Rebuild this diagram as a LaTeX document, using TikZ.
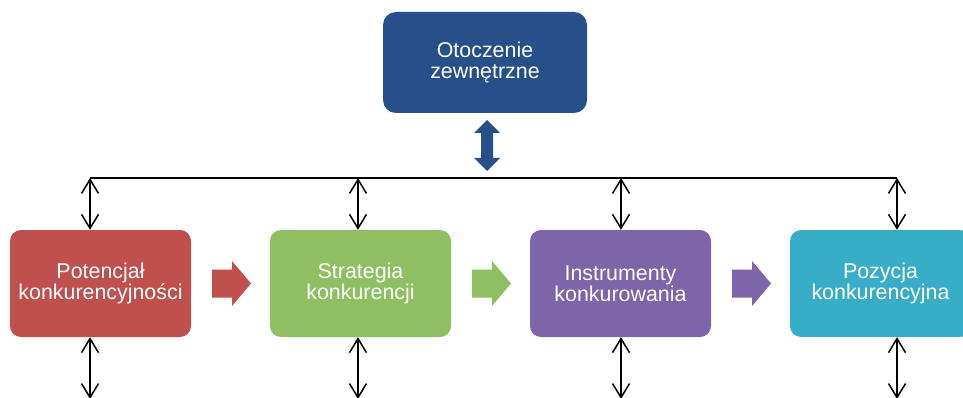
\documentclass[tikz,border=0pt]{standalone}
\usepackage{fontspec}
\setmainfont{Liberation Sans}
\usetikzlibrary{arrows.meta,calc}
\definecolor{cblue}{HTML}{27508A}
\definecolor{cred}{HTML}{C0504D}
\definecolor{cgreen}{HTML}{8FBE63}
\definecolor{cpurple}{HTML}{7E64A8}
\definecolor{ccyan}{HTML}{38ADC8}
\tikzset{
  box/.style={rounded corners=11pt, minimum width=181pt, minimum height=107pt,
    text=white, align=center, inner sep=0pt,
    font=\fontsize{21.4}{21.5}\selectfont},
  dbl/.style={line width=1.5pt, {Straight Barb[length=14pt,width=17pt]}-{Straight Barb[length=14pt,width=17pt]}},
  hline/.style={line width=1.4pt},
  blockarrow/.pic={\fill (0,-14) -- (20,-14) -- (20,-22.5) -- (39,0) -- (20,22.5) -- (20,14) -- (0,14) -- cycle;}
}
\begin{document}
\begin{tikzpicture}[x=1pt,y=-1pt]
\useasboundingbox (0,0) rectangle (963,398);
\clip (0,0) rectangle (963,398);
\fill[white] (0,0) rectangle (963,398);
\node[box, fill=cblue, minimum width=204pt, minimum height=101pt, rounded corners=13pt] (top) at (485,62.5) {Otoczenie\\zewnętrzne};
\node[box, fill=cred] (red) at (100.5,283.5) {Potencjał\\konkurencyjności};
\node[box, fill=cgreen] (green) at (360.5,283.5) {Strategia\\konkurencji};
\node[box, fill=cpurple] (purple) at (620.5,283.5) {Instrumenty\\konkurowania};
\node[box, fill=ccyan] (cyan) at (880.5,283.5) {Pozycja\\konkurencyjna};
% blue double arrow
\coordinate (ba) at (487,120);
\fill[cblue] (ba) -- ++(13,13) -- ++(-7,0) -- ++(0,25) -- ++(7,0) -- ++(-13,13) -- ++(-13,-13) -- ++(7,0) -- ++(0,-25) -- ++(-7,0) -- cycle;
% horizontal line
\coordinate (t1) at (90,178);
\coordinate (t2) at (358,178);
\coordinate (t3) at (621,178);
\coordinate (t4) at (897,178);
\draw[hline] (t1) -- (t4);
\foreach \t/\b in {t1/red,t2/green,t3/purple,t4/cyan}{
  \draw[dbl] (\t) -- (\t |- \b.north);
  \coordinate (\t b) at ($(\t)+(0,221)$);
  \draw[dbl] (\b.south -| \t) -- (\t b);
}
% block arrows
\path[fill=cred] (212,283.5) pic {blockarrow};
\path[fill=cgreen] (472,283.5) pic {blockarrow};
\path[fill=cpurple] (732,283.5) pic {blockarrow};
\end{tikzpicture}
\end{document}
